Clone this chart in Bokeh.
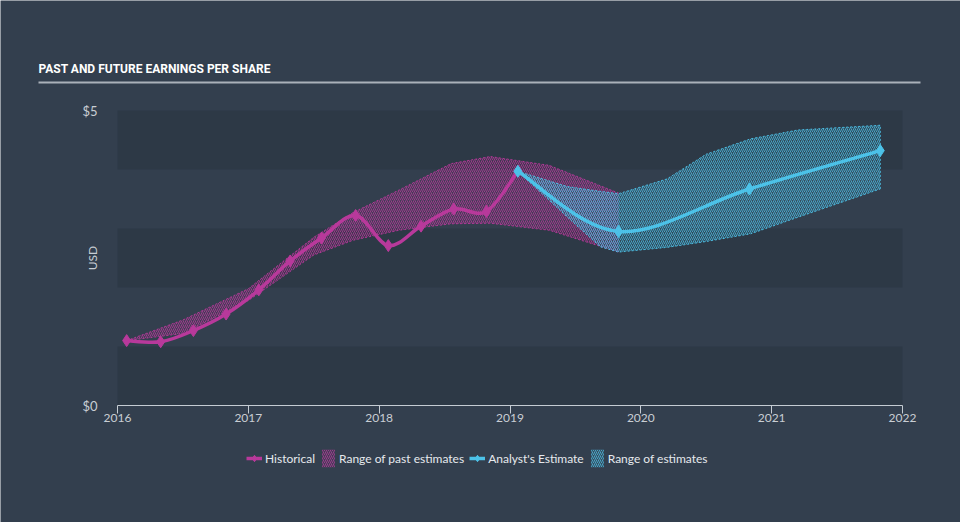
import math
from bokeh.plotting import figure
from bokeh.models import Range1d, FixedTicker, BoxAnnotation, Label, Legend, LegendItem, ColumnDataSource
from bokeh.embed import file_html
from bokeh.resources import INLINE

# ---------------- data ----------------
hist_year = [2016.07, 2016.33, 2016.58, 2016.83, 2017.08, 2017.32, 2017.56, 2017.82,
             2018.07, 2018.32, 2018.57, 2018.82, 2019.06]
hist_eps = [1.10, 1.08, 1.27, 1.55, 1.96, 2.45, 2.84, 3.22, 2.71, 3.04, 3.33, 3.29, 3.97]

est_year = [2019.06, 2019.83, 2020.83, 2021.83]
est_eps = [3.97, 2.95, 3.67, 4.32]

past_range_year = [2016.07, 2016.5, 2017.0, 2017.5, 2017.8, 2018.15, 2018.55, 2018.85, 2019.3, 2019.83]
past_range_high = [1.10, 1.45, 1.98, 2.85, 3.27, 3.65, 4.10, 4.22, 4.07, 3.60]
past_range_low = [1.10, 1.22, 1.78, 2.55, 2.80, 2.97, 3.08, 3.09, 2.97, 2.60]

est_range_year = [2019.06, 2019.44, 2019.69, 2019.83, 2020.2, 2020.5, 2020.84, 2021.2, 2021.83]
est_range_high = [3.97, 3.71, 3.63, 3.59, 3.84, 4.26, 4.52, 4.67, 4.75]
est_range_low = [3.97, 3.19, 2.69, 2.60, 2.68, 2.78, 2.91, 3.19, 3.67]

x_ticks = [2016, 2017, 2018, 2019, 2020, 2021, 2022]
y_ticks = [0, 5]
y_tick_labels = {0: "$0", 5: "$5"}

title_text = "PAST AND FUTURE EARNINGS PER SHARE"

# ---------------- style / layout ----------------
BG = "#333f4e"
STRIPE = "#2d3946"
MAGENTA = "#b8399b"
BLUE = "#4cc2e8"
TEXT = "#c9ced4"
FONT = "Lato"

W, H = 960, 522
PLOT_L, PLOT_R, PLOT_T, PLOT_B = 117, 902, 110, 405   # where the axes' extent sits on the page
X0, X1 = x_ticks[0], x_ticks[-1]
Y0, Y1 = y_ticks[0], y_ticks[-1]
PX_X = (PLOT_R - PLOT_L) / (X1 - X0)
PX_Y = (PLOT_B - PLOT_T) / (Y1 - Y0)
x_start = X0 - PLOT_L / PX_X
x_end = X1 + (W - PLOT_R) / PX_X
y_end = Y1 + PLOT_T / PX_Y
y_start = Y0 - (H - PLOT_B) / PX_Y


def px_x(px):
    return x_start + px / PX_X


def px_y(py):
    return y_end - py / PX_Y


def bezier_source(xs, ys):
    n = len(xs)
    d = dict(x0=[], y0=[], x1=[], y1=[], cx0=[], cy0=[], cx1=[], cy1=[])
    for i in range(n - 1):
        xp, yp = (xs[i - 1], ys[i - 1]) if i > 0 else (xs[i], ys[i])
        xn, yn = (xs[i + 2], ys[i + 2]) if i + 2 < n else (xs[i + 1], ys[i + 1])
        d["x0"].append(xs[i]); d["y0"].append(ys[i])
        d["x1"].append(xs[i + 1]); d["y1"].append(ys[i + 1])
        d["cx0"].append(xs[i] + (xs[i + 1] - xp) / 6)
        d["cy0"].append(ys[i] + (ys[i + 1] - yp) / 6)
        d["cx1"].append(xs[i + 1] - (xn - xs[i]) / 6)
        d["cy1"].append(ys[i + 1] - (yn - ys[i]) / 6)
    return ColumnDataSource(d)


p = figure(width=W, height=H, x_range=Range1d(x_start, x_end), y_range=Range1d(y_start, y_end),
           output_backend="svg", toolbar_location=None, min_border=0)
p.outline_line_color = None
p.background_fill_color = BG
p.border_fill_color = BG
p.grid.visible = False

# title and rule
p.add_layout(Label(x=px_x(38), y=px_y(68), text=title_text, text_color="#ffffff",
                   text_font="Roboto", text_font_style="bold", text_font_size="12px",
                   text_baseline="middle"))
p.add_layout(BoxAnnotation(left=px_x(38), right=px_x(920), top=px_y(81), bottom=px_y(83),
                           fill_color="#aab1b9", fill_alpha=1, line_color=None))

# stripes
for lo in range(Y0, Y1, 2):
    p.add_layout(BoxAnnotation(left=X0, right=X1, bottom=lo, top=lo + 1, fill_color=STRIPE,
                               fill_alpha=1, line_color=None, level="underlay"))

# ranges
past_band = p.varea(x=past_range_year, y1=past_range_low, y2=past_range_high,
                    fill_color=MAGENTA, fill_alpha=0.13,
                    hatch_pattern="/", hatch_color=MAGENTA, hatch_alpha=0.75,
                    hatch_scale=4, hatch_weight=1)
p.line(past_range_year, past_range_high, line_color=MAGENTA, line_dash="2 2", line_width=1, line_alpha=0.9)
p.line(past_range_year, past_range_low, line_color=MAGENTA, line_dash="2 2", line_width=1, line_alpha=0.9)

est_band = p.varea(x=est_range_year, y1=est_range_low, y2=est_range_high,
                   fill_color=BLUE, fill_alpha=0.13,
                   hatch_pattern="/", hatch_color=BLUE, hatch_alpha=0.75,
                   hatch_scale=4, hatch_weight=1)
p.line(est_range_year, est_range_high, line_color=BLUE, line_dash="2 2", line_width=1, line_alpha=0.9)
p.line(est_range_year, est_range_low, line_color=BLUE, line_dash="2 2", line_width=1, line_alpha=0.9)
p.line([est_range_year[-1], est_range_year[-1]], [est_range_low[-1], est_range_high[-1]],
       line_color=BLUE, line_dash="2 2", line_width=1, line_alpha=0.9)

# lines
p.bezier(x0="x0", y0="y0", x1="x1", y1="y1", cx0="cx0", cy0="cy0", cx1="cx1", cy1="cy1",
         source=bezier_source(hist_year, hist_eps), line_color=MAGENTA, line_width=3.5)
hist_pts = p.scatter(hist_year, hist_eps, marker="diamond", size=12, color=MAGENTA)

p.bezier(x0="x0", y0="y0", x1="x1", y1="y1", cx0="cx0", cy0="cy0", cx1="cx1", cy1="cy1",
         source=bezier_source(est_year, est_eps), line_color=BLUE, line_width=3.5)
est_pts = p.scatter(est_year, est_eps, marker="diamond", size=12, color=BLUE)

# legend line swatches (single point, draws nothing on the plot)
hist_key = p.line(x=hist_year[:1], y=hist_eps[:1], line_color=MAGENTA, line_width=3.5)
est_key = p.line(x=est_year[:1], y=est_eps[:1], line_color=BLUE, line_width=3.5)

# axes, drawn at fixed locations inside the full-page frame
xa = p.xaxis[0]
xa.fixed_location = Y0
xa.bounds = (X0, X1)
xa.ticker = FixedTicker(ticks=x_ticks)
xa.axis_line_color = "#c5ccd3"
xa.major_tick_line_color = "#c5ccd3"
xa.major_tick_out = 8
xa.major_tick_in = 0
xa.minor_tick_out = 0
xa.minor_tick_in = 0
xa.major_label_standoff = 0
xa.major_label_text_color = TEXT
xa.major_label_text_font = FONT
xa.major_label_text_font_size = "12px"

ya = p.yaxis[0]
ya.fixed_location = X0
ya.bounds = (Y0, Y1)
ya.ticker = FixedTicker(ticks=y_ticks)
ya.major_label_overrides = y_tick_labels
ya.axis_line_color = None
ya.major_tick_line_color = None
ya.minor_tick_line_color = None
ya.major_label_standoff = 14
ya.major_label_text_color = TEXT
ya.major_label_text_font = FONT
ya.major_label_text_font_size = "13px"

p.add_layout(Label(x=px_x(92), y=(Y0 + Y1) / 2, text="USD", angle=math.pi / 2,
                   text_align="center", text_baseline="middle", text_color=TEXT,
                   text_font=FONT, text_font_size="12px"))

legend = Legend(items=[
    LegendItem(label="Historical", renderers=[hist_key, hist_pts]),
    LegendItem(label="Range of past estimates", renderers=[past_band]),
    LegendItem(label="Analyst's Estimate", renderers=[est_key, est_pts]),
    LegendItem(label="Range of estimates", renderers=[est_band]),
], orientation="horizontal", location=(244, H - 471),
    background_fill_alpha=0, border_line_alpha=0,
    label_text_color="#e6e9ed", label_text_font=FONT, label_text_font_size="12px",
    glyph_width=16, glyph_height=22, label_standoff=3, spacing=5, padding=2, margin=0)
p.add_layout(legend)

open("out.html", "w").write(file_html(p, INLINE))
